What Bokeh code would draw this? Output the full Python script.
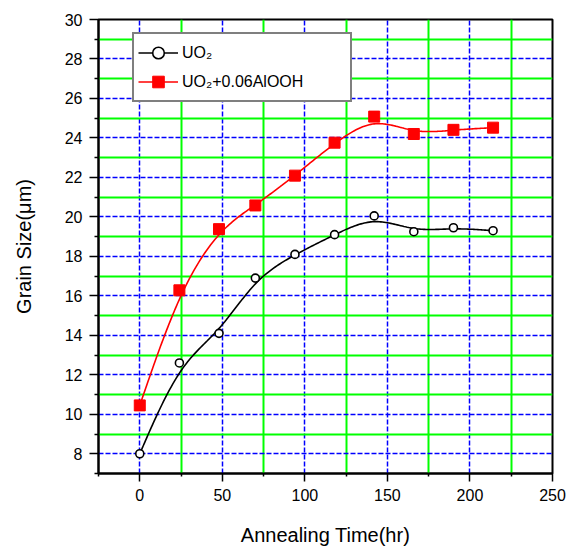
import numpy as np
from bokeh.plotting import figure
from bokeh.models import Range1d, FixedTicker, Legend, LegendItem
from bokeh.embed import file_html
from bokeh.resources import INLINE

# ---- data ----
time_uo2 = [0, 24, 48, 70, 94, 118, 142, 166, 190, 214]
size_uo2 = [8.0, 12.6, 14.1, 16.9, 18.1, 19.1, 20.05, 19.25, 19.45, 19.3]

time_al = [0, 24, 48, 70, 94, 118, 142, 166, 190, 214]
size_al = [10.45, 16.28, 19.38, 20.58, 22.09, 23.76, 25.08, 24.2, 24.41, 24.52]

x_major_ticks = [0, 50, 100, 150, 200, 250]
x_minor_ticks = [-25, 25, 75, 125, 175, 225]
y_major_ticks = [8, 10, 12, 14, 16, 18, 20, 22, 24, 26, 28, 30]
y_minor_ticks = [7, 9, 11, 13, 15, 17, 19, 21, 23, 25, 27, 29]

label_uo2 = "UO\u2082"
label_al = "UO\u2082+0.06AlOOH"
x_title = "Annealing Time(hr)"
y_title = "Grain Size(\u03bcm)"


def bspline(xs, ys, steps=24):
    """Clamped uniform cubic B-spline using the data points as control points
    (the smoothed connecting line of the original plot)."""
    px = np.array([xs[0]] * 2 + list(xs) + [xs[-1]] * 2, dtype=float)
    py = np.array([ys[0]] * 2 + list(ys) + [ys[-1]] * 2, dtype=float)
    nseg = len(px) - 3
    ox, oy = [], []
    for i in range(nseg):
        n = steps + 1 if i == nseg - 1 else steps
        t = np.arange(n) / steps
        b0 = (1 - t) ** 3 / 6
        b1 = (3 * t ** 3 - 6 * t ** 2 + 4) / 6
        b2 = (-3 * t ** 3 + 3 * t ** 2 + 3 * t + 1) / 6
        b3 = t ** 3 / 6
        ox.extend(b0 * px[i] + b1 * px[i + 1] + b2 * px[i + 2] + b3 * px[i + 3])
        oy.extend(b0 * py[i] + b1 * py[i + 1] + b2 * py[i + 2] + b3 * py[i + 3])
    return ox, oy


FONT = "Liberation Sans"

p = figure(width=575, height=555, output_backend="svg", toolbar_location=None,
           x_range=Range1d(-25, 250), y_range=Range1d(7, 30),
           min_border_left=98, min_border_right=23, min_border_top=19,
           min_border_bottom=82)
p.background_fill_color = "white"
p.border_fill_color = "white"
p.outline_line_color = "black"
p.outline_line_width = 2

p.xaxis.ticker = FixedTicker(ticks=x_major_ticks, minor_ticks=x_minor_ticks)
p.yaxis.ticker = FixedTicker(ticks=y_major_ticks, minor_ticks=y_minor_ticks)

for ax in (p.xaxis[0], p.yaxis[0]):
    ax.axis_line_width = 2
    ax.axis_line_color = "black"
    ax.major_tick_line_width = 1.5
    ax.minor_tick_line_width = 1.5
    ax.major_tick_in = 0
    ax.minor_tick_in = 0
    ax.major_label_text_font = FONT
    ax.major_label_text_font_size = "16px"
    ax.major_label_text_color = "black"
    ax.major_label_standoff = 7
    ax.axis_label_text_font = FONT
    ax.axis_label_text_font_size = "20px"
    ax.axis_label_text_font_style = "normal"
    ax.axis_label_text_color = "black"

p.xaxis.major_tick_out = 8
p.xaxis.minor_tick_out = 3
p.yaxis.major_tick_out = 9
p.yaxis.minor_tick_out = 4
p.xaxis.axis_label = x_title
p.yaxis.axis_label = y_title
p.xaxis.axis_label_standoff = 20
p.yaxis.axis_label_standoff = 27

for g in (p.xgrid[0], p.ygrid[0]):
    g.grid_line_color = "#0000FF"
    g.grid_line_width = 1.5
    g.grid_line_dash = "5 2"
    g.minor_grid_line_color = "#00FF00"
    g.minor_grid_line_width = 2

bx, by = bspline(time_uo2, size_uo2)
rx, ry = bspline(time_al, size_al)

l1 = p.line(bx, by, line_color="black", line_width=1.6)
m1 = p.scatter(time_uo2, size_uo2, marker="circle", size=8,
               fill_color="white", line_color="black", line_width=1.6)
l2 = p.line(rx, ry, line_color="#FF0000", line_width=1.6)
m2 = p.scatter(time_al, size_al, marker="square", size=11,
               fill_color="#FF0000", line_color="#FF0000", line_width=1)

legend = Legend(items=[LegendItem(label=label_uo2, renderers=[l1, m1]),
                       LegendItem(label=label_al, renderers=[l2, m2])],
                location=(34, 371))
legend.padding = 4
legend.spacing = 0
legend.margin = 0
legend.glyph_width = 40
legend.glyph_height = 29
legend.label_standoff = 4
legend.label_width = 164
legend.label_text_font = FONT
legend.label_text_font_size = "16px"
legend.label_text_color = "black"
legend.border_line_color = "black"
legend.border_line_width = 2
legend.background_fill_color = "white"
legend.background_fill_alpha = 1
p.add_layout(legend)

open("out.html", "w").write(file_html(p, INLINE))
